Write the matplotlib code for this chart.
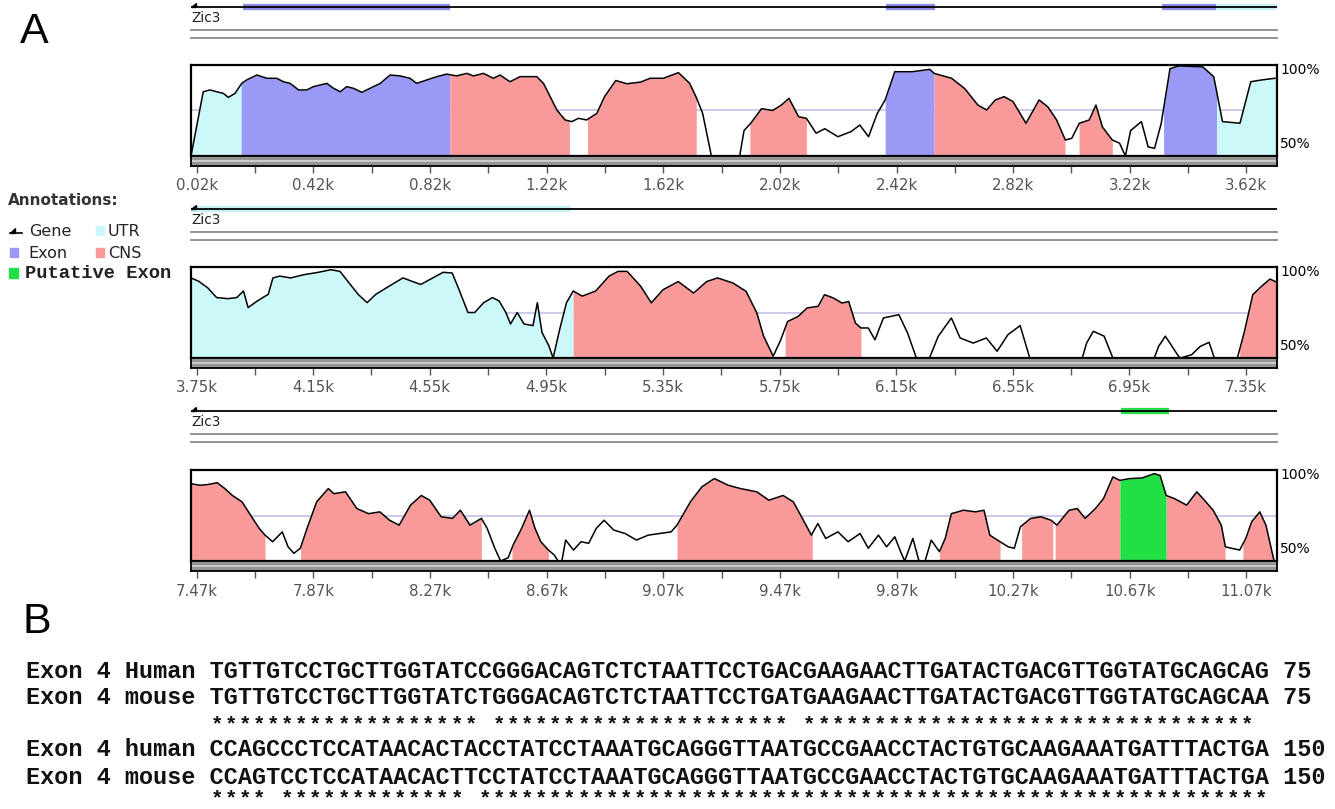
import numpy as np
import matplotlib
matplotlib.use('Agg')
import matplotlib.pyplot as plt
from matplotlib.patches import Rectangle, Polygon

W, H = 1335, 809

# ---------------- data ----------------
panel_ranges = [(0, 3725), (3731, 7456), (7450, 11175)]
tick_starts = [20, 3750, 7470]
gene_name = "Zic3"

p1_pos = [0, 42, 65, 88, 111, 128, 151, 174, 191, 226, 260, 294, 317, 340, 369, 397, 420, 443,
          466, 489, 512, 534, 557, 586, 614, 649, 683, 717, 751, 774, 809, 843, 877, 911, 946,
          969, 1003, 1037, 1060, 1094, 1129, 1186, 1209, 1232, 1255, 1283, 1306, 1329, 1357,
          1392, 1418, 1457, 1495, 1542, 1575, 1620, 1672, 1710, 1732, 1755, 1785,
          1882, 1897, 1920, 1957, 1995, 2025, 2051, 2084, 2111, 2144, 2174, 2219, 2264, 2294,
          2324, 2354, 2381, 2414, 2474, 2534, 2549, 2609, 2654, 2699, 2729, 2759, 2789, 2819,
          2864, 2909, 2939, 2969, 2999, 3021, 3047, 3081, 3104, 3126, 3160, 3185, 3205, 3223,
          3260, 3283, 3305, 3328, 3358, 3388, 3470, 3508, 3538, 3598, 3635, 3673, 3718]
p1_pct = [50, 85.3, 86.3, 85.3, 84.4, 82.2, 84.4, 89.9, 91.8, 94.5, 92.7, 92.7, 90.8, 89.9, 86.3,
          86.3, 88.1, 89, 89.9, 87.2, 85.3, 88.1, 87.2, 85, 87.2, 89.9, 94.5, 94, 92.7, 89.9, 91.8,
          93.6, 95, 94, 95.4, 94, 95.4, 92.7, 94.5, 90.8, 93.6, 93.6, 89.9, 82.6, 75.3, 69.8,
          68.9, 70.7, 69.8, 73.4, 82.5, 91.5, 89.7, 90.6, 92.7, 92.7, 95.8, 90, 82.6, 73.4, 50,
          50, 64, 68, 76, 75, 78, 81.7, 71.6, 70.7, 62.5, 65, 60.6, 63.4, 67,
          60.6, 73.4, 80.8, 96.3, 96.3, 97.6, 95.4, 92.7, 87, 78, 75.3, 80.8, 82.6, 80,
          68, 80.8, 77, 69.8, 58.8, 59.7, 68, 69.8, 78, 66, 58.8, 57, 50, 64,
          68.9, 55, 54.2, 68, 98, 99.5, 99, 93.6, 68.9, 68, 90.8, 91.8, 92.7]
p1_regions = [(0, 172, "UTR"), (172, 888, "Exon"), (888, 1298, "CNS"), (1360, 1733, "CNS"),
              (1917, 2111, "CNS"), (2381, 2549, "Exon"), (2549, 2998, "CNS"),
              (3046, 3160, "CNS"), (3336, 3518, "Exon"), (3518, 3725, "UTR")]
p1_annot = [(178, 888, "Exon"), (2384, 2552, "Exon"), (3331, 3516, "Exon"), (3516, 3725, "UTR")]

p2_pos = [3731, 3757, 3788, 3819, 3858, 3888, 3911, 3927, 3958, 3996, 4012, 4035, 4073, 4119,
          4165, 4211, 4242, 4273, 4304, 4335, 4365, 4411, 4458, 4488, 4519, 4550, 4596, 4627,
          4650, 4681, 4704, 4735, 4765, 4788, 4811, 4827, 4850, 4873, 4904, 4919, 4935, 4958,
          4973, 4996, 5019, 5042, 5073, 5119, 5165, 5196, 5227, 5273, 5310, 5350, 5402, 5455,
          5500, 5537, 5590, 5635, 5672, 5695, 5728, 5754, 5777, 5814, 5844, 5882, 5904, 5934,
          5964, 5987, 6010, 6029, 6054, 6077, 6106, 6159, 6189, 6219, 6264, 6294, 6339, 6369,
          6414, 6459, 6496, 6533, 6575, 6608, 6788, 6803, 6826, 6863, 6893, 7035, 7050, 7073,
          7118, 7125, 7163, 7193, 7223, 7241, 7320, 7343, 7373, 7403, 7432, 7450]
p2_pct = [94, 92.2, 88.6, 83.2, 82.6, 83.2, 86.8, 77.7, 81.3, 85, 94, 95, 94, 95.8,
          97, 98.5, 97.6, 91.3, 85, 80.4, 85, 89.5, 94, 92.2, 90.4, 93.1, 97.1, 96.7,
          87.7, 75, 75, 80.4, 83.2, 81.3, 75, 68.7, 75, 68.7, 67.8, 80.4, 64, 56.9,
          50, 66, 80.4, 86.8, 84, 86.8, 95, 97.6, 97.6, 89.5, 80.3, 87.5, 92, 85.7,
          92, 94, 91.2, 86.6, 74.7, 62, 51, 60, 70, 72.9, 77.5, 78.4, 84.8, 83,
          80.2, 81, 69.2, 66.5, 66.5, 60, 72, 73.8, 63.7, 50, 50, 61.9, 72, 61,
          58.2, 61, 53.7, 62.8, 67.8, 50, 50, 58.2, 64.7, 62, 50, 50, 56.4, 62,
          51, 50, 51.8, 56.4, 58.6, 50, 50, 63.7, 84.8, 89.4, 93.4, 92]
p2_regions = [(3731, 5042, "UTR"), (5042, 5728, "CNS"), (5769, 6029, "CNS"), (7328, 7456, "CNS")]
p2_annot = [(3731, 5035, "UTR")]

p3_pos = [7450, 7481, 7507, 7540, 7566, 7592, 7625, 7658, 7684, 7704, 7730, 7763, 7783, 7803,
          7825, 7848, 7881, 7921, 7940, 7980, 8019, 8059, 8098, 8131, 8164, 8203, 8240, 8269,
          8308, 8347, 8374, 8407, 8446, 8466, 8492, 8512, 8538, 8555, 8584, 8611, 8630, 8650,
          8676, 8696, 8709, 8722, 8735, 8762, 8788, 8814, 8840, 8867, 8900, 8939, 8978, 9018,
          9057, 9097, 9117, 9163, 9202, 9245, 9293, 9335, 9391, 9432, 9481, 9516, 9544, 9578,
          9600, 9627, 9669, 9704, 9745, 9773, 9808, 9836, 9864, 9884, 9898, 9926, 9947, 9968,
          9989, 10017, 10037, 10058, 10100, 10141, 10170, 10190, 10225, 10253, 10274, 10295,
          10330, 10365, 10400, 10420, 10462, 10490, 10517, 10552, 10580, 10612, 10636, 10670,
          10712, 10754, 10774, 10795, 10823, 10865, 10900, 10921, 10956, 10984, 10998, 11019,
          11047, 11068, 11088, 11116, 11137, 11165]
p3_pct = [92.5, 91.6, 92, 93, 89.8, 86, 82.5, 74.3, 67.9, 64.2, 60.6, 66, 57.8, 54.2,
          57, 67.9, 82.5, 89.8, 87, 88, 78.8, 76, 77, 72.4, 69.7, 80.7, 86, 83.4,
          74.3, 73.4, 77.9, 69.7, 73.4, 67.9, 57, 50, 51.8, 58.8, 67.9, 77.9, 67.9, 60.6,
          56, 53.3, 50, 50, 61.5, 56, 60.6, 59.7, 67.9, 72.4, 67, 65.1, 61.5, 64.2,
          65.1, 66, 69.7, 82.5, 90.7, 95.3, 91.6, 89.8, 88, 83.4, 86, 82.5, 74.3, 64.2,
          70.6, 62.4, 66, 60.6, 65.1, 57, 64.2, 57.8, 63.3, 55.1, 50, 62.4, 50, 50,
          61.5, 55.1, 62.4, 76, 77.9, 77, 77.9, 64.2, 60.6, 57.8, 57, 68.8,
          73.4, 74.3, 72.4, 69.7, 77.9, 78.8, 73.4, 78.8, 84.3, 96.2, 94.3, 95.3,
          95.6, 98, 97, 86, 84.3, 80.7, 88, 84.3, 77.9, 69.7, 57.8, 57,
          56, 62.4, 71.5, 77, 69.7, 50]
p3_regions = [(7450, 7704, "CNS"), (7826, 8446, "CNS"), (8551, 8676, "CNS"), (9117, 9581, "CNS"),
              (10017, 10225, "CNS"), (10299, 10406, "CNS"), (10414, 10636, "CNS"),
              (10636, 10795, "Putative Exon"), (10795, 10997, "CNS"), (11058, 11170, "CNS")]
p3_annot = [(10640, 10805, "Putative Exon")]

legend_items = ["Gene", "UTR", "Exon", "CNS", "Putative Exon"]

seq_labels = ["Exon 4 Human", "Exon 4 mouse", "Exon 4 human", "Exon 4 mouse"]
seq_h1 = "TGTTGTCCTGCTTGGTATCCGGGACAGTCTCTAATTCCTGACGAAGAACTTGATACTGACGTTGGTATGCAGCAG"
seq_m1 = "TGTTGTCCTGCTTGGTATCTGGGACAGTCTCTAATTCCTGATGAAGAACTTGATACTGACGTTGGTATGCAGCAA"
seq_h2 = "CCAGCCCTCCATAACACTACCTATCCTAAATGCAGGGTTAATGCCGAACCTACTGTGCAAGAAATGATTTACTGA"
seq_m2 = "CCAGTCCTCCATAACACTTCCTATCCTAAATGCAGGGTTAATGCCGAACCTACTGTGCAAGAAATGATTTACTGA"
seq_ends = [75, 150]

# ---------------- style ----------------
FILL = {"UTR": "#cbf8f8", "Exon": "#9a9af6", "CNS": "#f89a9a", "Putative Exon": "#22df45"}
ANN = {"UTR": "#c6f3f3", "Exon": "#8b8be8", "Putative Exon": "#22df45"}

# pixel layout per panel: gene line y, box top, box bottom
layout = [(7, 65, 156), (209, 267, 358), (411, 470, 561)]
X0, X1 = 191, 1277

fig = plt.figure(figsize=(W / 100, H / 100), dpi=100)
fig.patch.set_facecolor("white")


def px_axes(x0, y0, x1, y1):
    return fig.add_axes([x0 / W, 1 - y1 / H, (x1 - x0) / W, (y1 - y0) / H])


def fill_region(ax, pos, pct, a, b, color):
    pos = np.asarray(pos, float)
    pct = np.asarray(pct, float)
    inner = (pos > a) & (pos < b)
    xs = np.concatenate([[a], pos[inner], [b]])
    ys = np.concatenate([[np.interp(a, pos, pct)], pct[inner], [np.interp(b, pos, pct)]])
    ax.fill_between(xs, 50, ys, color=color, lw=0, zorder=2)


panels = [(p1_pos, p1_pct, p1_regions, p1_annot),
          (p2_pos, p2_pct, p2_regions, p2_annot),
          (p3_pos, p3_pct, p3_regions, p3_annot)]

for i, (pos, pct, regions, annot) in enumerate(panels):
    start, end = panel_ranges[i]
    gy, bt, bb = layout[i]

    # gene track
    tr = px_axes(X0 - 2, gy - 6, X1 + 2, gy + 36)
    tr.set_xlim(start - 2 / 0.2915, end + 2 / 0.2915)
    tr.set_ylim(42, 0)
    tr.axis("off")
    tr.plot([start, end], [6, 6], color="black", lw=1.3, zorder=2, solid_capstyle="butt")
    for a, b, kind in annot:
        tr.plot([a, b], [6, 6], color=ANN[kind], lw=4.5, zorder=1, solid_capstyle="butt")
    tr.add_patch(Polygon([(start, 6), (start + 16, 6), (start + 16, 2)], closed=True,
                         color="black", zorder=3))
    tr.text(start, 17.5, gene_name, fontsize=9.8, va="center", ha="left", color="#222")
    tr.plot([start, end], [29, 29], color="#8a8a8a", lw=1.3)
    tr.plot([start, end], [37, 37], color="#8a8a8a", lw=1.3)

    # conservation plot
    ax = px_axes(X0, bt, X1, bb)
    ax.set_xlim(start, end)
    ax.set_ylim(50, 100)
    ax.axhline(75, color="#c2c2e4", lw=1.2, zorder=1)
    for a, b, kind in regions:
        fill_region(ax, pos, pct, a, b, FILL[kind])
    ax.plot(pos, pct, color="black", lw=1.1, zorder=3, clip_on=False)
    ax.set_xticks([])
    ax.set_yticks([])
    for s in ax.spines.values():
        s.set_linewidth(1.6)
        s.set_color("black")
        s.set_zorder(4)

    # grey ruler bar with ticks
    bar = px_axes(X0, bb, X1, bb + 10)
    bar.set_xlim(start, end)
    bar.set_ylim(0, 1)
    bar.set_facecolor("#959595")
    bar.axhline(0.5, color="#d6d6d6", lw=1.2)
    bar.set_yticks([])
    ts = tick_starts[i]
    major = np.arange(ts, end, 400)
    minor = np.arange(ts + 200, end, 400)
    bar.set_xticks(major)
    bar.set_xticklabels([f"{v / 1000:.2f}k" for v in major])
    bar.set_xticks(minor, minor=True)
    bar.tick_params(axis="x", which="both", direction="out", length=5, width=1,
                    color="#555555", labelsize=10.8, labelcolor="#555555", pad=4)
    for s in bar.spines.values():
        s.set_linewidth(1.3)
        s.set_color("black")

    fig.text(1280 / W, 1 - (bt + 5) / H, "100%", fontsize=10, va="center", ha="left")
    fig.text(1280 / W, 1 - (bb - 12) / H, "50%", fontsize=10, va="center", ha="left")

# overlay for free text in pixel coordinates
ov = fig.add_axes([0, 0, 1, 1])
ov.set_xlim(0, W)
ov.set_ylim(H, 0)
ov.axis("off")
ov.patch.set_alpha(0)

ov.text(20, 32, "A", fontsize=31, family="Liberation Sans", va="center", ha="left")
ov.text(22, 622, "B", fontsize=31, family="Liberation Sans", va="center", ha="left")

# legend
ov.text(8, 200, "Annotations:", fontsize=11, weight="bold", color="#333333", va="center")
ov.plot([10, 22], [233, 233], color="black", lw=1.2)
ov.add_patch(Polygon([(10, 233), (15, 233), (15, 228)], closed=True, color="black"))
ov.text(29, 231, legend_items[0], fontsize=11.5, va="center", color="#222")
ov.add_patch(Rectangle((96, 226), 8, 9, color=FILL["UTR"]))
ov.text(108, 231, legend_items[1], fontsize=11.5, va="center", color="#222")
ov.add_patch(Rectangle((10, 248), 8, 9, color=FILL["Exon"]))
ov.text(28, 253, legend_items[2], fontsize=11.5, va="center", color="#222")
ov.add_patch(Rectangle((96, 248), 8, 9, color=FILL["CNS"]))
ov.text(108, 253, legend_items[3], fontsize=11.5, va="center", color="#222")
ov.add_patch(Rectangle((9, 268), 9, 10, color=FILL["Putative Exon"]))
ov.text(25, 274, legend_items[4], fontsize=13.5, family="Liberation Mono", weight="bold",
        va="center", color="#222")

# sequence alignment
SEQ_FS = 16.94                      # points; Liberation Mono advance = 0.6 em
CHAR_W = 0.6 * SEQ_FS / 72 * 100    # pixels per column
SEQ_X = 26
rows = [
    (671, f"{seq_labels[0]} {seq_h1} {seq_ends[0]}"),
    (698, f"{seq_labels[1]} {seq_m1} {seq_ends[0]}"),
    (750, f"{seq_labels[2]} {seq_h2} {seq_ends[1]}"),
    (777, f"{seq_labels[3]} {seq_m2} {seq_ends[1]}"),
]
for y, s in rows:
    ov.text(SEQ_X, y, s, fontsize=SEQ_FS, family="Liberation Mono", weight="bold",
            va="center", ha="left", color="#111")

# conservation stars: one per identical column
STAR_FS = 15
star_em = STAR_FS / 72 * 100
for y_glyph, (sa, sb) in [(721, (seq_h1, seq_m1)), (795, (seq_h2, seq_m2))]:
    base = y_glyph + 0.43 * star_em
    for j, (ca, cb) in enumerate(zip(sa, sb)):
        if ca == cb:
            col = 13 + j
            ov.text(SEQ_X + (col + 0.5) * CHAR_W, base, "*", fontsize=STAR_FS,
                    family="Liberation Mono", weight="bold", va="baseline", ha="center",
                    color="#111")

fig.savefig("out.png", dpi=100, facecolor="white")
